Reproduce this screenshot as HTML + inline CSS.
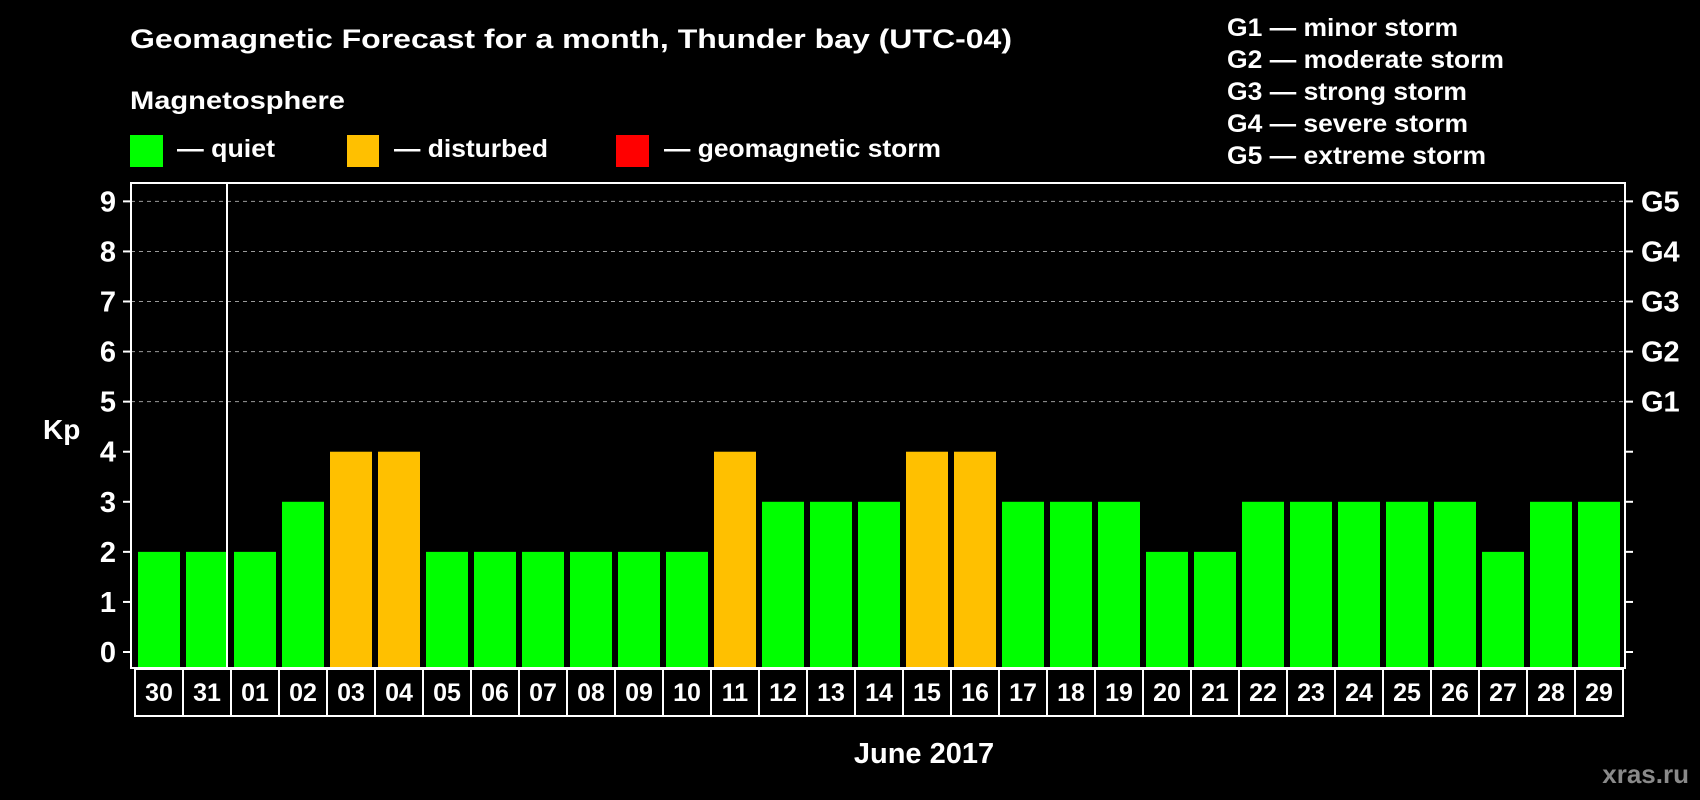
<!DOCTYPE html>
<html><head><meta charset="utf-8"><style>
html,body{margin:0;padding:0;background:#000;}
svg{display:block;font-family:"Liberation Sans",Arial,sans-serif;font-weight:bold;}
</style></head><body>
<svg id="chart" width="1700" height="800" viewBox="0 0 1700 800">
<rect x="0" y="0" width="1700" height="800" fill="#000"/>
<text x="130" y="48" font-size="27" fill="#fff" textLength="882" lengthAdjust="spacingAndGlyphs">Geomagnetic Forecast for a month, Thunder bay (UTC-04)</text>
<text x="130" y="109" font-size="25" fill="#fff" textLength="215" lengthAdjust="spacingAndGlyphs">Magnetosphere</text>
<g><rect x="130" y="135" width="33" height="32" fill="#00ff00"/><text x="177" y="157" font-size="25" fill="#fff" textLength="98" lengthAdjust="spacingAndGlyphs">— quiet</text></g>
<g><rect x="347" y="135" width="32" height="32" fill="#ffc000"/><text x="394" y="157" font-size="25" fill="#fff" textLength="154" lengthAdjust="spacingAndGlyphs">— disturbed</text></g>
<g><rect x="616" y="135" width="33" height="32" fill="#ff0000"/><text x="664" y="157" font-size="25" fill="#fff" textLength="277" lengthAdjust="spacingAndGlyphs">— geomagnetic storm</text></g>
<g font-size="25" fill="#fff">
<text x="1227" y="36" textLength="231" lengthAdjust="spacingAndGlyphs">G1 — minor storm</text>
<text x="1227" y="68" textLength="277" lengthAdjust="spacingAndGlyphs">G2 — moderate storm</text>
<text x="1227" y="100" textLength="240" lengthAdjust="spacingAndGlyphs">G3 — strong storm</text>
<text x="1227" y="132" textLength="241" lengthAdjust="spacingAndGlyphs">G4 — severe storm</text>
<text x="1227" y="164" textLength="259" lengthAdjust="spacingAndGlyphs">G5 — extreme storm</text>
</g>
<text x="43" y="439" font-size="28" fill="#fff">Kp</text>
<text x="924" y="763" font-size="29" fill="#fff" text-anchor="middle">June 2017</text>
<text x="1689" y="783" font-size="26" fill="#8a8a8a" text-anchor="end">xras.ru</text>
<g id="plot"></g>
</svg>
<script>
const days=["30","31","01","02","03","04","05","06","07","08","09","10","11","12","13","14","15","16","17","18","19","20","21","22","23","24","25","26","27","28","29"];
const kp=[2,2,2,3,4,4,2,2,2,2,2,2,4,3,3,3,4,4,3,3,3,2,2,3,3,3,3,3,2,3,3];
const yTicks=[0,1,2,3,4,5,6,7,8,9];
const gLabels=["G1","G2","G3","G4","G5"];
const gLevels=[5,6,7,8,9];
const NS="http://www.w3.org/2000/svg";
const plot=document.getElementById('plot');
const L=131,R=1625,T=183,B=668;
const slot0=134,slotW=48;
function y(v){return 652-v*50.07;}
function xs(i){return slot0+i*slotW;}
function mk(tag,attrs,parent){const e=document.createElementNS(NS,tag);for(const k in attrs)e.setAttribute(k,attrs[k]);(parent||plot).appendChild(e);return e;}
gLevels.forEach(v=>{
 const g=mk('line',{x1:L,x2:R,y1:y(v),y2:y(v),stroke:'#9a9a9a','stroke-width':1,'stroke-dasharray':'4,4'});
 
 
});
kp.forEach((v,i)=>{
 const c=v>=5?'#ff0000':(v>=4?'#ffc000':'#00ff00');
 const b=mk('rect',{x:xs(i)+4,y:y(v),width:42,height:B-y(v),fill:c});
 
 
});
const fr=mk('rect',{x:L,y:T,width:R-L,height:B-T,fill:'none',stroke:'#fff','stroke-width':2});


const dv=mk('line',{x1:xs(2)-3,x2:xs(2)-3,y1:T,y2:B,stroke:'#fff','stroke-width':2});


yTicks.forEach(v=>{
 mk('line',{x1:L-8,x2:L,y1:y(v),y2:y(v),stroke:'#fff','stroke-width':2});
 mk('line',{x1:R,x2:R+8,y1:y(v),y2:y(v),stroke:'#fff','stroke-width':2});
 const t=mk('text',{x:116,y:y(v)+10,'font-size':29,fill:'#fff','text-anchor':'end'});
 t.textContent=v;
 
 
});
gLabels.forEach((g,i)=>{
 const t=mk('text',{x:1641,y:y(gLevels[i])+10,'font-size':29,fill:'#fff'});
 t.textContent=g;
 
 
});
days.forEach((d,i)=>{
 const bx=mk('rect',{x:135+i*48,y:669,width:48,height:47,fill:'none',stroke:'#fff','stroke-width':2});
 
 
 const t=mk('text',{x:135+i*48+24,y:701,'font-size':25,fill:'#fff','text-anchor':'middle'});
 t.textContent=d;
 
 
});
</script>
</body></html>
